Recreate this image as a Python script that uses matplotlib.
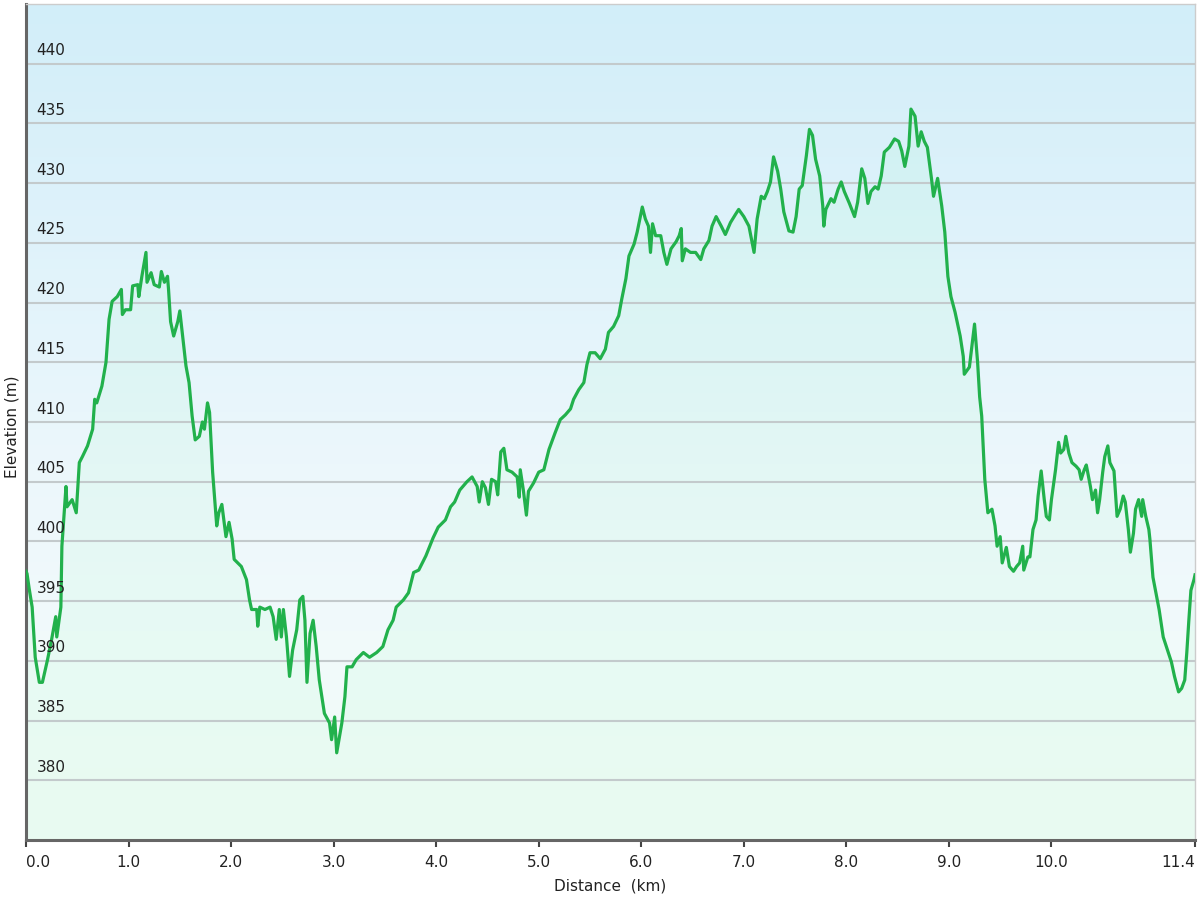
import numpy as np
import matplotlib
matplotlib.use("Agg")
import matplotlib.pyplot as plt
from matplotlib.colors import LinearSegmentedColormap
import matplotlib.transforms as mtransforms

# elevation profile (km, m)
distance_km = [
    0.00, 0.01, 0.03, 0.06, 0.09, 0.13, 0.16, 0.21, 0.25, 0.29, 0.30, 0.34, 0.35, 0.39,
    0.40, 0.45, 0.49, 0.52, 0.55, 0.60, 0.65, 0.67, 0.69, 0.74, 0.78, 0.81, 0.84, 0.89,
    0.93, 0.94, 0.97, 1.02, 1.04, 1.09, 1.10, 1.13, 1.17, 1.18, 1.22, 1.25, 1.30, 1.32,
    1.35, 1.38, 1.39, 1.41, 1.44, 1.48, 1.50, 1.53, 1.56, 1.59, 1.62, 1.65, 1.69, 1.72,
    1.74, 1.77, 1.79, 1.82, 1.86, 1.88, 1.91, 1.95, 1.98, 2.01, 2.03, 2.10, 2.15, 2.18,
    2.20, 2.25, 2.26, 2.28, 2.33, 2.38, 2.41, 2.44, 2.47, 2.49, 2.51, 2.54, 2.57, 2.60,
    2.64, 2.67, 2.70, 2.72, 2.74, 2.77, 2.80, 2.83, 2.86, 2.91, 2.96, 2.98, 3.01, 3.03,
    3.08, 3.11, 3.13, 3.18, 3.22, 3.29, 3.35, 3.42, 3.48, 3.53, 3.58, 3.61, 3.68, 3.73,
    3.78, 3.83, 3.90, 3.97, 4.02, 4.09, 4.14, 4.18, 4.23, 4.30, 4.35, 4.40, 4.42, 4.45,
    4.48, 4.51, 4.54, 4.58, 4.60, 4.63, 4.66, 4.69, 4.74, 4.79, 4.81, 4.82, 4.85, 4.88,
    4.90, 4.95, 5.00, 5.05, 5.10, 5.16, 5.21, 5.26, 5.31, 5.34, 5.39, 5.44, 5.47, 5.50,
    5.55, 5.60, 5.65, 5.68, 5.73, 5.78, 5.81, 5.85, 5.88, 5.93, 5.96, 6.01, 6.04, 6.07,
    6.09, 6.11, 6.14, 6.19, 6.22, 6.25, 6.29, 6.34, 6.37, 6.39, 6.40, 6.43, 6.48, 6.53,
    6.58, 6.61, 6.66, 6.69, 6.73, 6.78, 6.82, 6.87, 6.92, 6.95, 7.00, 7.05, 7.10, 7.13,
    7.17, 7.20, 7.23, 7.26, 7.29, 7.33, 7.36, 7.39, 7.44, 7.48, 7.51, 7.54, 7.57, 7.61,
    7.64, 7.67, 7.70, 7.74, 7.77, 7.78, 7.80, 7.85, 7.88, 7.92, 7.95, 7.98, 8.03, 8.08,
    8.11, 8.15, 8.18, 8.21, 8.24, 8.28, 8.31, 8.34, 8.37, 8.42, 8.47, 8.51, 8.54, 8.57,
    8.61, 8.63, 8.67, 8.70, 8.73, 8.76, 8.79, 8.83, 8.85, 8.89, 8.93, 8.96, 8.99, 9.02,
    9.06, 9.11, 9.14, 9.15, 9.20, 9.25, 9.28, 9.30, 9.32, 9.35, 9.38, 9.42, 9.45, 9.47,
    9.50, 9.52, 9.56, 9.59, 9.63, 9.66, 9.69, 9.72, 9.73, 9.77, 9.79, 9.82, 9.85, 9.87,
    9.90, 9.93, 9.95, 9.98, 10.00, 10.04, 10.07, 10.09, 10.12, 10.14, 10.17, 10.20, 10.24,
    10.27, 10.29, 10.32, 10.34, 10.38, 10.40, 10.43, 10.45, 10.47, 10.50, 10.52, 10.55,
    10.57, 10.61, 10.64, 10.67, 10.70, 10.72, 10.75, 10.77, 10.80, 10.82, 10.85, 10.88,
    10.89, 10.92, 10.95, 10.96, 10.99, 11.05, 11.09, 11.14, 11.17, 11.20, 11.24, 11.27,
    11.30, 11.32, 11.34, 11.36, 11.39, 11.40,
]
elevation_m = [
    397.5, 397.3, 396.1, 394.5, 390.3, 388.2, 388.2, 390.1, 391.8, 393.7, 392.0, 394.5, 399.6, 404.6,
    402.9, 403.5, 402.4, 406.6, 407.1, 408.0, 409.4, 411.9, 411.6, 413.0, 415.0, 418.6, 420.1, 420.5,
    421.1, 419.0, 419.4, 419.4, 421.4, 421.5, 420.5, 422.2, 424.2, 421.7, 422.5, 421.5, 421.3, 422.6,
    421.7, 422.2, 421.1, 418.4, 417.2, 418.4, 419.3, 417.0, 414.7, 413.3, 410.5, 408.5, 408.8, 410.0,
    409.4, 411.6, 410.8, 405.8, 401.3, 402.4, 403.1, 400.4, 401.6, 400.2, 398.5, 397.9, 396.8, 395.1,
    394.3, 394.3, 392.9, 394.5, 394.3, 394.5, 393.7, 391.8, 394.3, 392.0, 394.3, 392.0, 388.7, 390.9,
    392.6, 395.1, 395.4, 393.4, 388.2, 392.3, 393.4, 391.2, 388.4, 385.6, 384.8, 383.4, 385.3, 382.3,
    384.8, 387.0, 389.5, 389.5, 390.1, 390.7, 390.3, 390.7, 391.2, 392.6, 393.4, 394.5, 395.1, 395.7,
    397.4, 397.6, 398.8, 400.3, 401.2, 401.8, 402.9, 403.3, 404.3, 405.0, 405.4, 404.6, 403.3, 405.0,
    404.5, 403.1, 405.2, 405.0, 403.9, 407.5, 407.8, 406.0, 405.8, 405.4, 403.7, 406.0, 404.3, 402.2,
    404.2, 404.9, 405.8, 406.0, 407.7, 409.1, 410.2, 410.6, 411.1, 411.9, 412.7, 413.3, 414.8, 415.8,
    415.8, 415.3, 416.1, 417.5, 418.0, 418.9, 420.3, 422.0, 423.9, 424.9, 425.9, 428.0, 427.0, 426.4,
    424.2, 426.6, 425.6, 425.6, 424.2, 423.2, 424.5, 425.1, 425.6, 426.2, 423.5, 424.5, 424.2, 424.2,
    423.6, 424.5, 425.2, 426.4, 427.2, 426.4, 425.7, 426.7, 427.4, 427.8, 427.2, 426.4, 424.2, 427.0,
    428.9, 428.7, 429.3, 430.1, 432.2, 431.0, 429.5, 427.6, 426.0, 425.9, 427.2, 429.5, 429.8, 432.3,
    434.5, 434.0, 432.0, 430.6, 428.1, 426.4, 427.8, 428.7, 428.4, 429.5, 430.1, 429.3, 428.3, 427.2,
    428.4, 431.2, 430.4, 428.3, 429.3, 429.7, 429.5, 430.6, 432.6, 433.0, 433.7, 433.5, 432.7, 431.4,
    433.1, 436.2, 435.6, 433.1, 434.3, 433.5, 433.0, 430.4, 428.9, 430.4, 428.1, 425.9, 422.2, 420.5,
    419.2, 417.2, 415.5, 414.0, 414.6, 418.2, 415.0, 412.1, 410.5, 405.2, 402.4, 402.7, 401.3, 399.6,
    400.4, 398.2, 399.5, 397.9, 397.5, 397.9, 398.2, 399.6, 397.6, 398.7, 398.7, 401.0, 401.8, 403.8,
    405.9, 403.5, 402.1, 401.8, 403.5, 406.0, 408.3, 407.4, 407.7, 408.8, 407.4, 406.6, 406.3,
    406.0, 405.2, 406.0, 406.4, 404.6, 403.5, 404.3, 402.4, 403.5, 405.8, 407.1, 408.0,
    406.6, 405.9, 402.1, 402.7, 403.8, 403.3, 401.0, 399.1, 400.7, 402.7, 403.5, 402.1,
    403.5, 402.1, 401.0, 400.2, 397.0, 394.3, 392.0, 390.7, 389.9, 388.7, 387.4, 387.7,
    388.4, 390.7, 393.4, 395.9, 396.8, 397.2,
]

y_ticks = [380, 385, 390, 395, 400, 405, 410, 415, 420, 425, 430, 435, 440]
x_ticks = [0.0, 1.0, 2.0, 3.0, 4.0, 5.0, 6.0, 7.0, 8.0, 9.0, 10.0, 11.4]
x_tick_labels = ["0.0", "1.0", "2.0", "3.0", "4.0", "5.0", "6.0", "7.0", "8.0", "9.0", "10.0", "11.4"]

x = np.array(distance_km)
y = np.array(elevation_m)
xmin, xmax = 0.0, 11.4
ymin, ymax = 375.0, 445.0

fig = plt.figure(figsize=(12, 9), dpi=100)
ax = fig.add_axes([26 / 1200, 1 - 840 / 900, (1195 - 26) / 1200, (840 - 4) / 900])

# background gradient: light blue at top, near white lower down, pale green at the bottom
bg = LinearSegmentedColormap.from_list(
    "bg", [(0.0, "#f3fbf8"), (0.25, "#f1fafb"), (0.45, "#ecf7fc"), (1.0, "#d2eef9")]
)
grad = np.linspace(0, 1, 256).reshape(-1, 1)
ax.imshow(grad, cmap=bg, origin="lower", aspect="auto",
          extent=[xmin, xmax, ymin, ymax], zorder=0)

ax.fill_between(x, y, ymin, color="#8cffb4", alpha=0.09, linewidth=0, zorder=1)
for v in y_ticks:
    ax.axhline(v, color="#c3cacc", linewidth=1.5, zorder=1.5)
ax.plot(x, y, color="#22b14c", linewidth=2.3, zorder=3, solid_joinstyle="round")

ax.set_xlim(xmin, xmax)
ax.set_ylim(ymin, ymax)

# y labels sit inside the plot just above each gridline
trans = mtransforms.blended_transform_factory(ax.transAxes, ax.transData)
for v in y_ticks:
    ax.text(0.009, v + 0.45, str(v), transform=trans, ha="left", va="bottom",
            fontsize=11, color="#222222", zorder=4)
ax.set_yticks([])

ax.set_xticks(x_ticks)
ax.set_xticklabels(x_tick_labels, fontsize=11, color="#222222")
labels = ax.get_xticklabels()
labels[0].set_ha("left")
labels[-1].set_ha("right")
ax.tick_params(axis="x", direction="out", length=5, width=1.5, color="#444444", pad=6)

for side in ("left", "bottom"):
    ax.spines[side].set_color("#666666")
    ax.spines[side].set_linewidth(2.2)
for side in ("top", "right"):
    ax.spines[side].set_color("#cccccc")
    ax.spines[side].set_linewidth(1.0)

ax.set_xlabel("Distance  (km)", fontsize=11, color="#222222", labelpad=6)
fig.text(12 / 1200, 1 - 427 / 900, "Elevation (m)", rotation=90, ha="center",
         va="center", fontsize=11, color="#222222")

fig.savefig("out.png", dpi=100, facecolor="white")
